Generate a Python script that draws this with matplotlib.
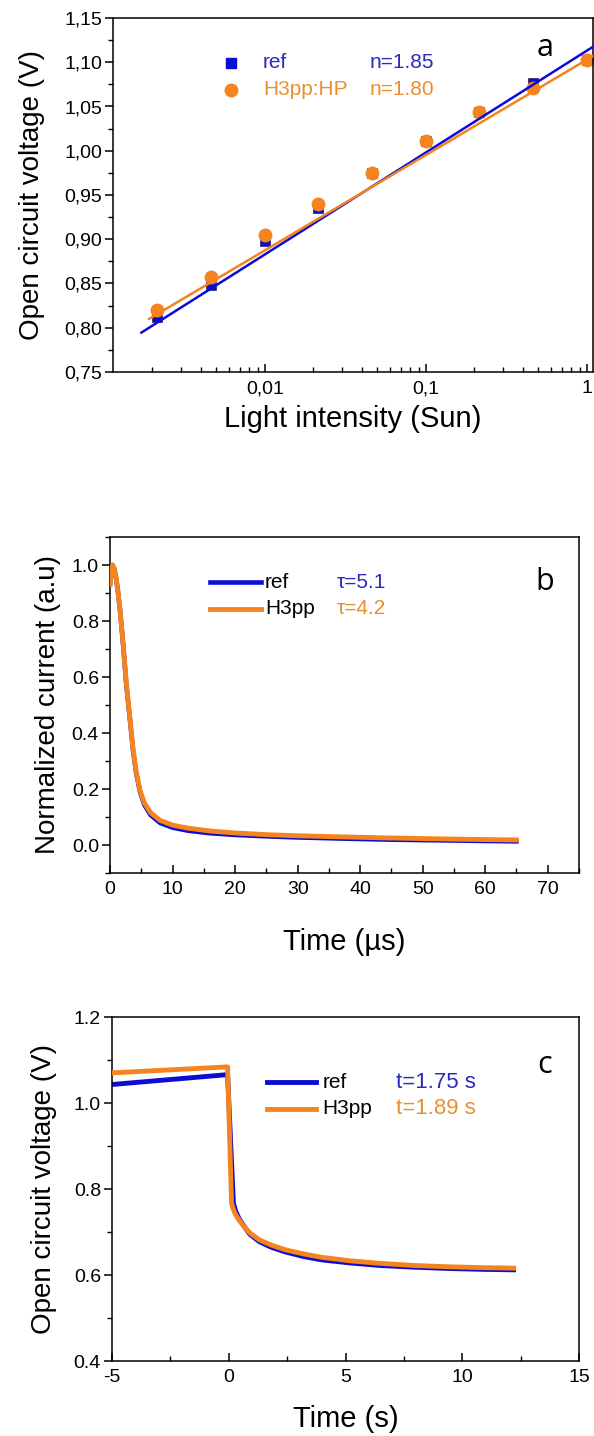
import numpy as np
import matplotlib
matplotlib.use('Agg')
import matplotlib.pyplot as plt
from matplotlib.ticker import FuncFormatter, MultipleLocator, LogLocator, NullFormatter

plt.rcParams['font.family'] = ['Liberation Sans', 'DejaVu Sans']
plt.rcParams['axes.unicode_minus'] = False

# ---- panel a: Voc vs light intensity ----
a_int = [0.00215, 0.00464, 0.01, 0.0215, 0.0464, 0.1, 0.215, 0.464, 1.0]
a_ref = [0.812, 0.848, 0.898, 0.935, 0.975, 1.011, 1.044, 1.077, 1.103]
a_h3pp = [0.820, 0.857, 0.905, 0.940, 0.975, 1.011, 1.044, 1.071, 1.102]
fit_ref_x = [0.00171, 1.09]
fit_ref_y = [0.7945, 1.1175]
fit_h3pp_x = [0.00191, 1.09]
fit_h3pp_y = [0.810, 1.107]

# ---- panel b: transient photocurrent ----
b_time = [0, 0.2, 0.4, 0.7, 1.0, 1.3, 1.6, 2.1, 2.6, 3.2, 3.7, 4.2, 4.8, 5.5, 6.5, 8.0,
          10, 12.5, 16, 20, 25, 30, 37, 45, 55, 65]
b_h3pp = [0.93, 0.98, 1.0, 0.985, 0.95, 0.9, 0.84, 0.72, 0.58, 0.45, 0.34, 0.26, 0.195,
          0.15, 0.115, 0.088, 0.071, 0.06, 0.05, 0.043, 0.037, 0.033, 0.029, 0.025,
          0.021, 0.018]
b_ref = [0.93, 0.98, 1.0, 0.985, 0.95, 0.9, 0.84, 0.715, 0.575, 0.445, 0.335, 0.255,
         0.19, 0.143, 0.107, 0.079, 0.062, 0.051, 0.042, 0.036, 0.031, 0.027, 0.023,
         0.019, 0.016, 0.013]

# ---- panel c: Voc decay ----
c_time_h3pp = [-5, -0.05, 0.12, 0.2, 0.3, 0.45, 0.65, 0.9, 1.3, 1.8, 2.4, 3.2, 4.0,
               5.2, 6.5, 8.0, 9.5, 11.0, 12.2]
c_h3pp = [1.070, 1.084, 0.767, 0.752, 0.740, 0.727, 0.713, 0.698, 0.682, 0.670, 0.659,
          0.649, 0.641, 0.633, 0.627, 0.622, 0.619, 0.617, 0.616]
c_time_ref = [-5, -0.05, 0.2, 0.3, 0.45, 0.7, 0.9, 1.3, 1.8, 2.4, 3.2, 4.0, 5.2, 6.5,
              8.0, 9.5, 11.0, 12.2]
c_ref = [1.043, 1.066, 0.767, 0.748, 0.730, 0.710, 0.695, 0.678, 0.665, 0.654, 0.643,
         0.635, 0.628, 0.622, 0.618, 0.615, 0.613, 0.612]

BLUE = '#0c0cd6'
ORANGE = '#f5841f'
BLUE_TXT = '#2a2ac0'
ORANGE_TXT = '#e8902e'
TICK_FS = 14
LAB_FS = 20
LEG_FS = 15

W, H = 594, 1436
fig = plt.figure(figsize=(W / 100, H / 100), dpi=100)


def box(l, r, t, b):
    return [l / W, 1 - b / H, (r - l) / W, (b - t) / H]


def style(ax):
    for s in ax.spines.values():
        s.set_linewidth(1.1)
    ax.tick_params(axis='x', which='both', direction='in', top=False, labelsize=TICK_FS, pad=6)
    ax.tick_params(axis='y', which='both', direction='out', right=False, labelsize=TICK_FS, pad=2)
    ax.tick_params(which='major', length=6, width=1.1)
    ax.tick_params(which='minor', length=3.5, width=1.0)


# panel a
axa = fig.add_axes(box(113, 593, 18, 372))
axa.semilogx(a_int, a_ref, 's', color=BLUE, ms=7.5, mec='#202060', mew=0.5, zorder=2)
axa.semilogx(a_int, a_h3pp, 'o', color=ORANGE, ms=9, zorder=2.1)
axa.plot(fit_ref_x, fit_ref_y, '-', color=BLUE, lw=1.8, zorder=3)
axa.plot(fit_h3pp_x, fit_h3pp_y, '-', color=ORANGE, lw=1.8, zorder=3.1)
axa.set_xlim(0.00114, 1.09)
axa.set_ylim(0.75, 1.15)
axa.yaxis.set_major_locator(MultipleLocator(0.05))
axa.yaxis.set_minor_locator(MultipleLocator(0.025))
axa.yaxis.set_major_formatter(FuncFormatter(lambda v, p: ('%.2f' % v).replace('.', ',')))
axa.xaxis.set_major_locator(LogLocator(base=10))
axa.xaxis.set_minor_locator(LogLocator(base=10, subs=np.arange(2, 10)))
axa.xaxis.set_major_formatter(FuncFormatter(lambda v, p: ('%g' % v).replace('.', ',')))
axa.xaxis.set_minor_formatter(NullFormatter())
style(axa)
axa.set_ylabel('Open circuit voltage (V)', fontsize=LAB_FS)
axa.yaxis.set_label_coords(-0.142, 0.5)
axa.set_xlabel('Light intensity (Sun)', fontsize=LAB_FS + 1)
axa.xaxis.set_label_coords(0.5, -0.093)
axa.plot([0.246], [0.873], 's', color=BLUE, ms=7.5, transform=axa.transAxes)
axa.plot([0.246], [0.797], 'o', color=ORANGE, ms=9, transform=axa.transAxes)
axa.text(0.3125, 0.873, 'ref', color=BLUE_TXT, fontsize=LEG_FS, va='center', transform=axa.transAxes)
axa.text(0.3125, 0.797, 'H3pp:HP', color=ORANGE_TXT, fontsize=LEG_FS, va='center', transform=axa.transAxes)
axa.text(0.535, 0.873, 'n=1.85', color=BLUE_TXT, fontsize=LEG_FS, va='center', transform=axa.transAxes)
axa.text(0.535, 0.797, 'n=1.80', color=ORANGE_TXT, fontsize=LEG_FS, va='center', transform=axa.transAxes)
axa.text(0.90, 0.915, 'a', fontsize=22, family='Open Sans', ha='center', va='center', transform=axa.transAxes)

# panel b
axb = fig.add_axes(box(110, 579, 537, 873))
axb.plot(b_time, b_ref, '-', color=BLUE, lw=3.3, zorder=2)
axb.plot(b_time, b_h3pp, '-', color=ORANGE, lw=3.5, zorder=3)
axb.set_xlim(0, 75)
axb.set_ylim(-0.1, 1.1)
axb.xaxis.set_major_locator(MultipleLocator(10))
axb.xaxis.set_minor_locator(MultipleLocator(5))
axb.yaxis.set_major_locator(MultipleLocator(0.2))
axb.yaxis.set_minor_locator(MultipleLocator(0.1))
axb.yaxis.set_major_formatter(FuncFormatter(lambda v, p: '%.1f' % v if v >= -0.01 else ''))
style(axb)
axb.set_ylabel('Normalized current (a.u)', fontsize=LAB_FS)
axb.yaxis.set_label_coords(-0.104, 0.5)
axb.set_xlabel('Time (\u00b5s)', fontsize=LAB_FS + 1)
axb.xaxis.set_label_coords(0.5, -0.164)
axb.plot([0.213, 0.322], [0.866, 0.866], '-', color=BLUE, lw=3.3, transform=axb.transAxes)
axb.plot([0.213, 0.322], [0.786, 0.786], '-', color=ORANGE, lw=3.5, transform=axb.transAxes)
axb.text(0.33, 0.866, 'ref', fontsize=LEG_FS, va='center', transform=axb.transAxes)
axb.text(0.33, 0.786, 'H3pp', fontsize=LEG_FS, va='center', transform=axb.transAxes)
axb.text(0.484, 0.866, '\u03c4=5.1', color=BLUE_TXT, fontsize=LEG_FS, va='center', transform=axb.transAxes)
axb.text(0.484, 0.786, '\u03c4=4.2', color=ORANGE_TXT, fontsize=LEG_FS, va='center', transform=axb.transAxes)
axb.text(0.927, 0.866, 'b', fontsize=22, family='Open Sans', ha='center', va='center', transform=axb.transAxes)

# panel c
axc = fig.add_axes(box(112, 579, 1017, 1361))
axc.plot(c_time_ref, c_ref, '-', color=BLUE, lw=3.5, zorder=2)
axc.plot(c_time_h3pp, c_h3pp, '-', color=ORANGE, lw=3.5, zorder=3)
axc.set_xlim(-5, 15)
axc.set_ylim(0.4, 1.2)
axc.xaxis.set_major_locator(MultipleLocator(5))
axc.xaxis.set_minor_locator(MultipleLocator(2.5))
axc.yaxis.set_major_locator(MultipleLocator(0.2))
axc.yaxis.set_minor_locator(MultipleLocator(0.1))
axc.yaxis.set_major_formatter(FuncFormatter(lambda v, p: '%.1f' % v))
style(axc)
axc.set_ylabel('Open circuit voltage (V)', fontsize=LAB_FS)
axc.yaxis.set_label_coords(-0.118, 0.5)
axc.set_xlabel('Time (s)', fontsize=LAB_FS + 1)
axc.xaxis.set_label_coords(0.5, -0.128)
axc.plot([0.332, 0.437], [0.811, 0.811], '-', color=BLUE, lw=3.5, transform=axc.transAxes)
axc.plot([0.332, 0.437], [0.733, 0.733], '-', color=ORANGE, lw=3.5, transform=axc.transAxes)
axc.text(0.45, 0.811, 'ref', fontsize=LEG_FS, va='center', transform=axc.transAxes)
axc.text(0.45, 0.733, 'H3pp', fontsize=LEG_FS, va='center', transform=axc.transAxes)
axc.text(0.608, 0.811, 't=1.75 s', color=BLUE_TXT, fontsize=LEG_FS + 1, va='center', transform=axc.transAxes)
axc.text(0.608, 0.733, 't=1.89 s', color=ORANGE_TXT, fontsize=LEG_FS + 1, va='center', transform=axc.transAxes)
axc.text(0.927, 0.86, 'c', fontsize=22, family='Open Sans', ha='center', va='center', transform=axc.transAxes)

fig.savefig('out.png', dpi=100)
